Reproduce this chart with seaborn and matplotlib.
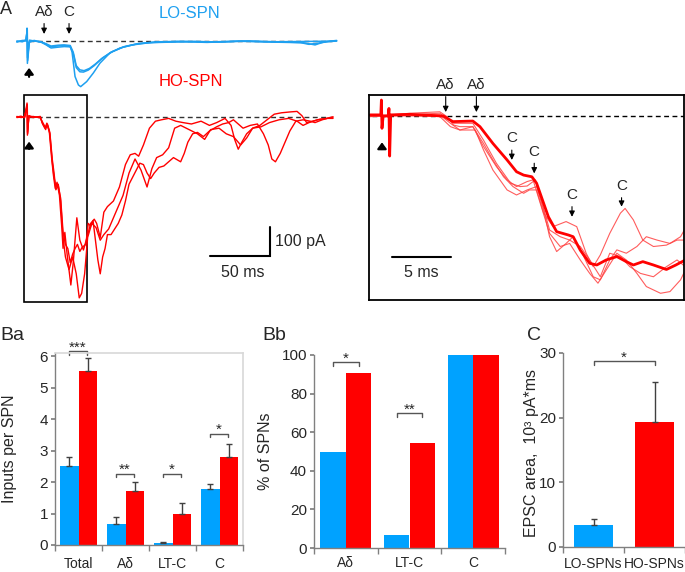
import numpy as np
import pandas as pd
import matplotlib
matplotlib.use("Agg")
import matplotlib.pyplot as plt
import seaborn as sns
from matplotlib.patches import Rectangle

BLUE = "#00A2FF"
RED = "#FF0000"

# ---------------- traces (time in ms, current in pA) ----------------
lo1_t = [-8.5, -4, -0.5, 0, 0.3, 1.5, 5, 11, 14, 19, 25, 30, 35.8, 37.5, 40, 42.8, 44.7, 49.7, 55.3,
         60.8, 69, 77.5, 88, 102, 120, 140, 160, 185, 210, 230, 240, 247, 254, 258]
lo1_i = [-4, 2, 0, 46, -80, -5, 0, -2, -7, -21, -18, -16, -18, -39, -127, -157, -163, -145, -114,
         -79, -43, -25, -14, -6, -4, -2, -4, 0, -3, -6, -14, -4, 0, 2]
lo2_t = [-8.5, -4, -1, 0.2, 0.5, 2, 6, 12, 16, 20, 26, 31, 36, 38.5, 41, 44, 47, 51, 56, 62, 70, 80,
         92, 106, 125, 150, 175, 200, 225, 245, 258]
lo2_i = [-2, 0, 4, 40, -70, -2, 2, -5, -14, -25, -22, -20, -21, -45, -95, -110, -111, -104, -88, -64,
         -40, -22, -10, -5, -2, -5, -1, -3, -2, -1, 0]
lo3_t = [-8.5, -4, -1, 0.1, 0.4, 2, 6, 12, 16, 20, 26, 31, 36, 38.5, 41, 44, 47.5, 52, 57, 63, 71, 81,
         93, 108, 130, 155, 180, 205, 228, 235, 242, 250, 258]
lo3_i = [0, -3, 2, 35, -60, 3, 0, -4, -10, -18, -15, -14, -16, -40, -88, -103, -106, -98, -82, -60,
         -38, -20, -9, -3, -1, -3, 0, -4, -6, -12, -8, -3, 0]

hoa_t = [-8.5, -5, -2, 0, 0.3, 1.5, 5, 11, 12.5, 15, 16.5, 18.5, 20.5, 22, 23.5, 25, 27, 29, 30, 31.5,
         33.5, 36.5, 38.5, 41.5, 44, 47, 50, 53, 56, 58, 61, 64, 67, 72, 77, 82, 86, 90, 93, 97, 102,
         107, 112, 118, 124, 130, 137, 145, 152, 158, 165, 170, 173, 176, 179, 183, 188, 194, 200,
         206, 212, 219, 225, 229, 233, 238, 244, 250, 255]
hoa_i = [0, 3, -3, 50, -65, 5, 0, 0, -20, -40, -22, -50, -147, -208, -255, -233, -280, -397, -469,
         -412, -494, -600, -520, -360, -440, -475, -430, -380, -365, -380, -430, -340, -320, -300,
         -250, -170, -135, -130, -140, -100, -40, -15, -10, -5, -15, -20, -25, -15, -30, -20, -5, -30,
         -80, -115, -90, -60, -40, -30, -10, 10, 15, 18, 20, 5, -20, -15, -8, -5, 0]
hob_t = [-8.5, -5, -2, 0.1, 0.4, 1.5, 5, 11, 12.5, 15, 17, 19, 21, 22.5, 24, 26, 28, 30, 32, 35, 38,
         41, 43.5, 45.5, 48, 50.5, 54, 57.5, 61, 64, 68, 72, 76, 80, 85, 90, 95, 100, 104, 108, 113,
         118, 123, 128, 135, 142, 148, 153, 160, 166, 172, 178, 183, 188, 195, 202, 210, 218, 225,
         230, 235, 242, 250, 255]
hob_i = [2, -2, 0, 40, -55, 0, 2, -3, -15, -35, -30, -60, -160, -215, -250, -240, -300, -430, -500,
         -545, -500, -560, -646, -630, -560, -430, -380, -395, -440, -420, -400, -360, -320, -280,
         -200, -150, -190, -250, -185, -145, -135, -110, -40, -30, -45, -60, -80, -45, -40, -60, -70,
         -100, -75, -40, -35, -20, -10, -5, -15, -30, -20, -10, -5, -5]
hoc_t = [-8.5, -5, -2, 0.2, 0.5, 1.5, 5, 11, 13, 15.5, 17, 19, 21, 22.5, 24, 26, 28, 30, 32, 34, 36,
         38, 40, 42, 44, 46, 49, 51, 53, 55, 57, 59, 61, 63, 65, 67, 70, 73, 76, 79, 82, 85, 88, 91,
         94, 97, 100, 103, 106, 110, 114, 118, 122, 126, 128, 131, 134, 138, 142, 147, 152, 158, 163,
         168, 172, 176, 180, 186, 192, 197, 201, 204, 207, 211, 215, 219, 224, 230, 236, 240, 246,
         250, 255]
hoc_i = [-2, 0, 2, 45, -60, 3, -2, 2, -25, -45, -25, -55, -150, -200, -260, -245, -290, -410, -455,
         -470, -520, -490, -470, -455, -480, -465, -455, -380, -390, -370, -440, -510, -560, -500,
         -470, -420, -420, -400, -380, -350, -300, -240, -215, -190, -165, -170, -200, -220, -200,
         -180, -175, -160, -145, -155, -160, -130, -90, -60, -55, -70, -50, -35, -25, -20, -10, -25,
         -40, -30, -25, -60, -100, -150, -160, -130, -90, -50, -15, -10, -15, -20, -10, -5, 0]

# expanded view (first ~26 ms of HO-SPN responses)
z1_t = [-1.0, 2.4, 4.9, 5.5, 6.05, 6.6, 7.7, 8.6, 9.4, 10.3, 11.1, 12.0, 12.5, 13.1, 13.7, 14.5, 15.6,
        16.5, 17.3, 17.9, 18.5, 19.3, 20.2, 20.6, 21.3, 22.1, 23.0, 24.1, 25.0, 25.7]
z1_i = [-2, 10, 15, -2, -32, -38, -38, -98, -157, -217, -252, -276, -264, -264, -347, -395, -377,
        -395, -490, -538, -496, -419, -347, -330, -371, -443, -466, -461, -443, -443]
z2_t = [-1.0, 4.9, 5.8, 6.6, 7.7, 8.6, 9.7, 10.6, 11.4, 12.3, 12.8, 13.5, 14.2, 15.1, 15.9, 16.8,
        17.6, 18.3, 19.0, 19.9, 20.7, 21.6, 22.4, 23.6, 24.4, 25.3, 25.7]
z2_i = [-2, 4, -26, -50, -38, -109, -181, -228, -252, -234, -228, -324, -419, -466, -455, -514, -562,
        -597, -550, -490, -514, -562, -609, -633, -627, -585, -550]
z3_t = [-1.0, 4.9, 5.8, 6.6, 7.9, 8.6, 9.4, 10.6, 11.4, 12.3, 13.1, 13.7, 14.2, 14.8, 15.6, 16.2,
        17.1, 17.9, 18.5, 19.3, 19.9, 20.7, 21.6, 22.4, 23.3, 24.4, 25.3, 25.7]
z3_i = [4, -2, -38, -50, -50, -121, -193, -264, -282, -264, -252, -336, -431, -484, -455, -431, -502,
        -574, -585, -514, -478, -490, -466, -431, -443, -455, -431, -401]
z4_t = [-1.0, 4.9, 6.05, 7.7, 8.6, 9.7, 10.9, 11.7, 12.3, 13.0, 13.5, 14.2, 15.1, 15.9, 16.8, 17.6,
        18.5, 19.3, 20.2, 21.0, 21.9, 23.0, 24.1, 25.0, 25.7]
z4_i = [-2, 10, -26, -26, -86, -169, -240, -252, -250, -228, -300, -407, -431, -443, -466, -514, -574,
        -490, -502, -538, -562, -574, -538, -514, -538]
zm_t = [-1.0, -0.1, -0.05, 0.0, 0.1, 0.54, 0.59, 0.65, 0.74, 2.37, 5.2, 6.0, 7.7, 8.3, 9.4, 10.6,
        11.4, 12.0, 12.7, 13.1, 13.5, 14.1, 14.8, 15.8, 16.2, 16.8, 17.6, 18.2, 19.0, 19.9, 20.7,
        21.3, 22.1, 23.0, 24.1, 24.9, 25.7]
zm_i = [4, 4, 57, -44, 0, 0, 27, -143, 4, 6, 0, -20, -18, -38, -98, -157, -199, -211, -217, -240,
        -288, -360, -413, -425, -431, -479, -526, -532, -514, -502, -520, -532, -520, -532, -548,
        -532, -514]

# arrow marks
lo_marks_t = [14.2, 35]
lo_marks_lab = ["Aδ", "C"]
zoom_marks_t = [5.4, 8.0, 11.0, 12.9, 16.1, 20.3]
zoom_marks_lab = ["Aδ", "Aδ", "C", "C", "C", "C"]
zoom_marks_tip = [14, 14, -157, -205, -360, -324]
zoom_marks_txt = [111, 111, -80, -127, -282, -250]

# ---------------- bar data ----------------
ba_groups = ["Total", "Aδ", "LT-C", "C"]
ba_lo = [2.52, 0.66, 0.06, 1.79]
ba_lo_err = [0.26, 0.24, 0.04, 0.16]
ba_ho = [5.53, 1.71, 0.99, 2.79]
ba_ho_err = [0.41, 0.29, 0.35, 0.43]
ba_sig = ["***", "**", "*", "*"]
ba_sig_y = [6.15, 2.25, 2.25, 3.54]

bb_groups = ["Aδ", "LT-C", "C"]
bb_lo = [50, 6.7, 100]
bb_ho = [90.9, 54.5, 100]
bb_sig = ["*", "**"]
bb_sig_y = [96.2, 69.7]

c_groups = ["LO-SPNs", "HO-SPNs"]
c_vals = [3.47, 19.4]
c_err = [0.85, 6.1]

sns.set_theme(style="white")
plt.rcParams["font.family"] = ["Liberation Sans", "DejaVu Sans"]

W, H = 685, 572
fig = plt.figure(figsize=(W / 100, H / 100), dpi=100)


def px_axes(x0, y0, x1, y1):
    return fig.add_axes([x0 / W, 1 - y1 / H, (x1 - x0) / W, (y1 - y0) / H])


def trace(ax, t, i, color, lw=1.0, alpha=1.0):
    sns.lineplot(x=t, y=i, ax=ax, sort=False, estimator=None, color=color, lw=lw, alpha=alpha)


def up_arrow(ax, t, y0, y1):
    ax.annotate("", xy=(t, y1), xytext=(t, y0),
                arrowprops=dict(arrowstyle="-|>,head_width=0.22,head_length=0.3",
                                color="black", lw=1.6, shrinkA=0, shrinkB=0))


def mark(ax, t, lab, ytxt, ytip, fs=11):
    ax.annotate(lab, xy=(t, ytip), xytext=(t, ytxt), ha="center", va="center", fontsize=fs,
                arrowprops=dict(arrowstyle="-|>,head_width=0.15,head_length=0.3",
                                color="black", lw=0.8, shrinkA=1, shrinkB=0))


# ---------------- panel A: LO-SPN ----------------
ax_lo = px_axes(10, 0, 340, 95)
ax_lo.set_xlim(-14.2, 260.8)
ax_lo.set_ylim(-192.9, 146.4)
ax_lo.axis("off")
ax_lo.plot([2, 254], [0, 0], ls=(0, (3.5, 2.5)), color="#333333", lw=1)
for t, i in [(lo1_t, lo1_i), (lo2_t, lo2_i), (lo3_t, lo3_i)]:
    trace(ax_lo, t, i, "#1EA0F0", lw=1.1)
for t, lab in zip(lo_marks_t, lo_marks_lab):
    mark(ax_lo, t, lab, 104, 25)
up_arrow(ax_lo, 1.7, -128, -96)

# ---------------- panel A: HO-SPN ----------------
ax_ho = px_axes(10, 90, 340, 306)
ax_ho.set_xlim(-14.2, 260.8)
ax_ho.set_ylim(-675, 96.4)
ax_ho.axis("off")
ax_ho.plot([2, 254], [0, 0], ls=(0, (3.5, 2.5)), color="#333333", lw=1)
for t, i in [(hoa_t, hoa_i), (hob_t, hob_i), (hoc_t, hoc_i)]:
    trace(ax_ho, t, i, RED, lw=1.0)
ax_ho.add_patch(Rectangle((-2.25, -659.6), 52.5, 738.2, fill=False, ec="black", lw=1.2))
up_arrow(ax_ho, 1.7, -114, -88)
ax_ho.plot([152.5, 202.5, 202.5], [-495, -495, -392], color="black", lw=1.5,
           solid_joinstyle="miter")
ax_ho.text(206.5, -446, "100 pA", fontsize=11.5, va="center", ha="left")
ax_ho.text(180, -557, "50 ms", fontsize=11.5, va="center", ha="center")

# ---------------- panel A: expanded ----------------
ax_z = px_axes(369, 95, 684, 300)
ax_z.set_xlim(-1.10, 25.59)
ax_z.set_ylim(-657, 75)
ax_z.set_xticks([])
ax_z.set_yticks([])
for s in ax_z.spines.values():
    s.set_visible(True)
    s.set_color("black")
    s.set_linewidth(1.3)
ax_z.plot([-0.85, 25.7], [0, 0], ls=(0, (3.5, 2.5)), color="black", lw=1)
for t, i in [(z1_t, z1_i), (z2_t, z2_i), (z3_t, z3_i), (z4_t, z4_i)]:
    trace(ax_z, t, i, "#FF4040", lw=0.8, alpha=0.85)
trace(ax_z, zm_t, zm_i, RED, lw=2.0)
for t, lab, tip, txt in zip(zoom_marks_t, zoom_marks_lab, zoom_marks_tip, zoom_marks_txt):
    mark(ax_z, t, lab, txt, tip)
up_arrow(ax_z, 0.0, -118, -94)
ax_z.plot([0.82, 5.85], [-502, -502], color="black", lw=1.5)
ax_z.text(3.36, -560, "5 ms", fontsize=11.5, ha="center", va="center")

fig.text(6 / W, 1 - 9 / H, "A", fontsize=13, ha="center", va="center")
fig.text(189 / W, 1 - 13 / H, "LO-SPN", fontsize=12, color="#1EA0F0", ha="center", va="center")
fig.text(191 / W, 1 - 82 / H, "HO-SPN", fontsize=12, color=RED, ha="center", va="center")


# ---------------- bar panels ----------------
def style_bar_axes(ax, n, frame=False, xpad=8):
    for side in ["left", "bottom"]:
        ax.spines[side].set_color("#808080")
        ax.spines[side].set_linewidth(1.0)
    for side in ["top", "right"]:
        ax.spines[side].set_visible(frame)
        ax.spines[side].set_color("#d9d9d9")
    ax.set_xlim(-0.5, n - 0.5)
    ax.set_xticks(list(np.arange(n + 1) - 0.5), minor=True)
    ax.tick_params(axis="x", which="major", length=0, labelsize=10, pad=xpad)
    ax.tick_params(axis="x", which="minor", length=4, direction="out", color="#808080",
                   bottom=True)
    ax.tick_params(axis="y", length=3, direction="out", color="#808080", labelsize=11, pad=2,
                   left=True)
    ax.set_xlabel("")


def bracket(ax, x1, x2, y, h, lab):
    ax.plot([x1, x1, x2, x2], [y - h, y, y, y - h], color="#555555", lw=1, clip_on=False)
    ax.text((x1 + x2) / 2, y, lab, ha="center", va="baseline", fontsize=11, clip_on=False)


def add_upper_err(ax, conts, errs):
    for cont, err in zip(conts, errs):
        xs = [b.get_x() + b.get_width() / 2 for b in cont]
        ys = [b.get_height() for b in cont]
        ax.errorbar(xs, ys, yerr=[np.zeros(len(err)), err], fmt="none", ecolor="#404040",
                    elinewidth=1, capsize=2.5, capthick=1)


# Ba
ax_ba = px_axes(55, 353, 243, 545)
ba_df = pd.DataFrame({"group": ba_groups * 2,
                      "cell": ["LO"] * 4 + ["HO"] * 4,
                      "value": ba_lo + ba_ho})
sns.barplot(data=ba_df, x="group", y="value", hue="cell", hue_order=["LO", "HO"],
            palette=[BLUE, RED], errorbar=None, width=0.8, saturation=1, linewidth=0,
            legend=False, ax=ax_ba)
add_upper_err(ax_ba, ax_ba.containers, [ba_lo_err, ba_ho_err])
ax_ba.set_ylim(0, 6.1)
ax_ba.set_yticks(range(0, 7))
style_bar_axes(ax_ba, 4, frame=True, xpad=9)
ax_ba.set_ylabel("Inputs per SPN", fontsize=11.5)
ax_ba.yaxis.set_label_coords(-0.2, 0.5)
for k, (lab, y) in enumerate(zip(ba_sig, ba_sig_y)):
    bracket(ax_ba, k - 0.21, k + 0.19, y, 0.1, lab)

# Bb
ax_bb = px_axes(314, 355, 505, 548)
bb_df = pd.DataFrame({"group": bb_groups * 2,
                      "cell": ["LO"] * 3 + ["HO"] * 3,
                      "value": bb_lo + bb_ho})
sns.barplot(data=bb_df, x="group", y="value", hue="cell", hue_order=["LO", "HO"],
            palette=[BLUE, RED], errorbar=None, width=0.8, saturation=1, linewidth=0,
            legend=False, ax=ax_bb)
ax_bb.set_ylim(0, 100)
ax_bb.set_yticks(range(0, 101, 20))
style_bar_axes(ax_bb, 3, xpad=6)
for b in ax_bb.patches:
    b.set_clip_on(False)
ax_bb.set_ylabel("% of SPNs", fontsize=11.5)
ax_bb.yaxis.set_label_coords(-0.215, 0.5)
for k, (lab, y) in enumerate(zip(bb_sig, bb_sig_y)):
    bracket(ax_bb, k - 0.2, k + 0.2, y, 1.8, lab)

# C
ax_c = px_axes(563, 353, 685, 547)
c_df = pd.DataFrame({"group": c_groups, "value": c_vals})
sns.barplot(data=c_df, x="group", y="value", hue="group", palette=[BLUE, RED], errorbar=None,
            width=0.64, saturation=1, linewidth=0, legend=False, ax=ax_c)
add_upper_err(ax_c, [[b] for b in ax_c.patches], [[e] for e in c_err])
ax_c.set_ylim(0, 30)
ax_c.set_yticks([0, 10, 20, 30])
style_bar_axes(ax_c, 2, xpad=7)
ax_c.set_ylabel("EPSC area,  10³ pA*ms", fontsize=11.5)
ax_c.yaxis.set_label_coords(-0.2, 0.485)
bracket(ax_c, 0, 1, 28.7, 0.5, "*")

fig.text(0 / W, 1 - 336 / H, "Ba", fontsize=14, ha="left", va="center")
fig.text(262 / W, 1 - 336 / H, "Bb", fontsize=14, ha="left", va="center")
fig.text(527 / W, 1 - 336 / H, "C", fontsize=14, ha="left", va="center")

fig.savefig("out.png", dpi=100)
